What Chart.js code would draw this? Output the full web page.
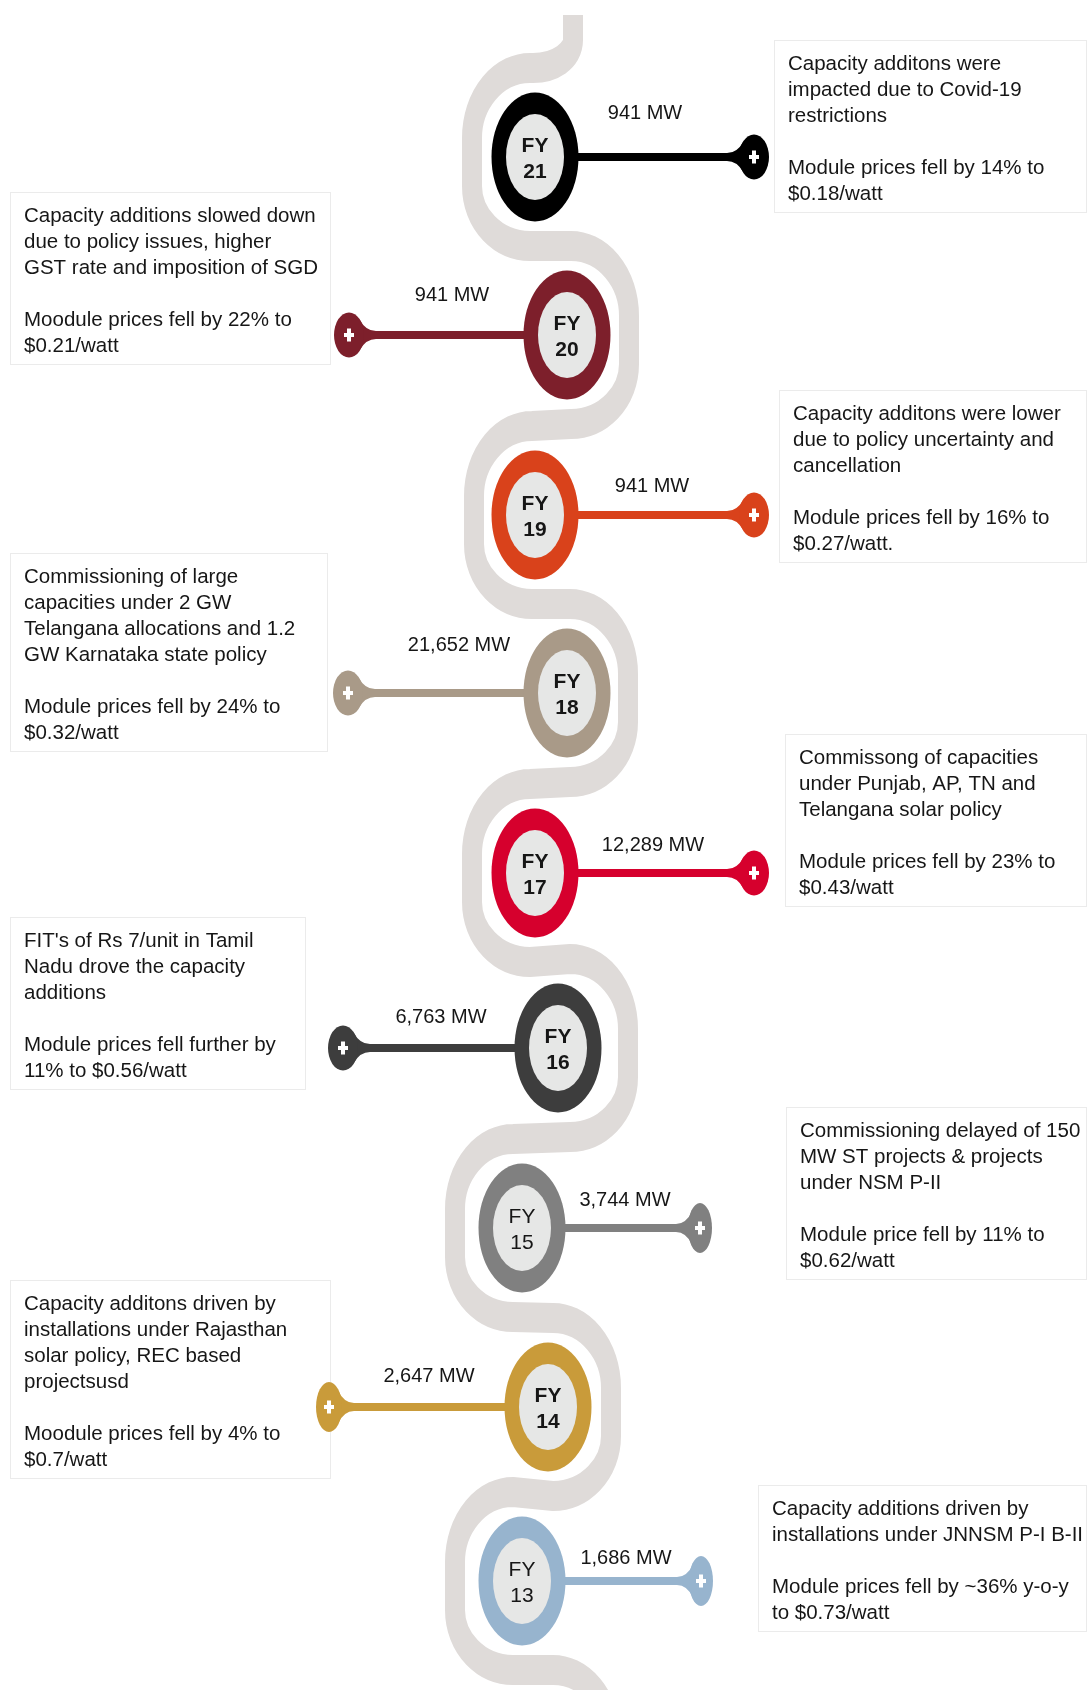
<!DOCTYPE html>
<html>
<head>
<meta charset="utf-8">
<script src="https://cdn.jsdelivr.net/npm/chart.js@4.4.0/dist/chart.umd.min.js"></script>
<style>
  html, body { margin: 0; padding: 0; background: #fff; }
  #wrap { width: 1088px; height: 1690px; position: relative; }
</style>
</head>
<body>
<div id="wrap"><canvas id="timeline"></canvas></div>
<script>
// ---- data (top = latest year) ----
const years = ['FY21', 'FY20', 'FY19', 'FY18', 'FY17', 'FY16', 'FY15', 'FY14', 'FY13'];
const capacityMW = [941, 941, 941, 21652, 12289, 6763, 3744, 2647, 1686];
const notes = [
  ['Capacity additons were', 'impacted due to Covid-19', 'restrictions', '', 'Module prices fell by 14% to', '$0.18/watt'],
  ['Capacity additions slowed down', 'due to policy issues, higher', 'GST rate and imposition of SGD', '', 'Moodule prices fell by 22% to', '$0.21/watt'],
  ['Capacity additons were lower', 'due to policy uncertainty and', 'cancellation', '', 'Module prices fell by 16% to', '$0.27/watt.'],
  ['Commissioning of large', 'capacities under 2 GW', 'Telangana allocations and 1.2', 'GW Karnataka state policy', '', 'Module prices fell by 24% to', '$0.32/watt'],
  ['Commissong of capacities', 'under Punjab, AP, TN and', 'Telangana solar policy', '', 'Module prices fell by 23% to', '$0.43/watt'],
  ["FIT's of Rs 7/unit in Tamil", 'Nadu drove the capacity', 'additions', '', 'Module prices fell further by', '11% to $0.56/watt'],
  ['Commissioning delayed of 150', 'MW ST projects & projects', 'under NSM P-II', '', 'Module price fell by 11% to', '$0.62/watt'],
  ['Capacity additons driven by', 'installations under Rajasthan', 'solar policy, REC based', 'projectsusd', '', 'Moodule prices fell by 4% to', '$0.7/watt'],
  ['Capacity additions driven by', 'installations under JNNSM P-I B-II', '', 'Module prices fell by ~36% y-o-y', 'to $0.73/watt']
];

// ---- look & layout ----
const ringColors = ['#000000', '#7d1f2b', '#d9421b', '#a99a88', '#d6002d', '#3d3d3d', '#808080', '#c99b3a', '#97b4ce'];
const boldYear = [true, true, true, true, true, true, false, true, false];
const ringX = [535, 567, 535, 567, 535, 558, 522, 548, 522];
const rowNudge = [0, 0, 2, 2, 4, 1, 3, 4, 0];
const bandGap = [63, 62, 61, 61, 63, 70, 67, 63, 67];
const stemLen = [219, 218, 219, 219, 219, 215, 178, 219, 179];
const labelDx = [110, 115, 117, 108, 118, 117, 103, 119, 104];
const labelRise = [44, 40, 29, 48, 28, 31, 28, 31, 23];
const pinSize = [[30, 45], [30, 45], [30, 45], [30, 45], [30, 45], [30, 45], [24, 50], [26, 50], [24, 50]];
const boxLeft = [774, 10, 779, 10, 785, 10, 786, 10, 758];
const boxWidth = [313, 321, 308, 318, 302, 296, 301, 321, 329];
const boxTop = [-117, -143, -125, -140, -139, -131, -121, -127, -96];

const BAND = '#dfdbd9';
const INNER = '#e6e7e6';
const TEXT = '#161616';
const FONT = '"Liberation Sans", Arial, sans-serif';

function stemDir(i) { return i % 2 === 0 ? 1 : -1; } // +1 -> stem to the right

function drawBand(ctx, chart, pts) {
  const ys = chart.scales.y;
  const rx = 58, ryTop = 70, ryBot = 60;
  const bandX = pts.map((p, i) => p.x - stemDir(i) * bandGap[i]);
  ctx.beginPath();
  // stub coming in from the top
  const yt0 = ys.getPixelForValue(-0.5);
  const stubX = bandX[1] - 56;
  ctx.moveTo(stubX, 15);
  ctx.lineTo(stubX, yt0 - 28);
  ctx.ellipse(stubX - 40, yt0 - 28, 40, 28, 0, 0, Math.PI / 2, false);
  pts.forEach((p, i) => {
    const s = -stemDir(i);
    const xb = bandX[i];
    const yt = ys.getPixelForValue(i - 0.5) + rowNudge[i];
    const yb = ys.getPixelForValue(i + 0.5) + rowNudge[i];
    const cx = xb - s * rx;
    ctx.lineTo(cx, yt);
    ctx.ellipse(cx, yt + ryTop, rx, ryTop, 0, -Math.PI / 2, s < 0 ? -Math.PI : 0, s < 0);
    ctx.lineTo(xb, yb - ryBot);
    ctx.ellipse(cx, yb - ryBot, rx, ryBot, 0, s < 0 ? Math.PI : 0, Math.PI / 2, s < 0);
  });
  // tail leaving at the bottom
  const yEnd = ys.getPixelForValue(pts.length - 0.5);
  const tailX = bandX[7] - rx;
  ctx.lineTo(tailX, yEnd);
  ctx.ellipse(tailX, yEnd + ryTop, rx, ryTop, 0, -Math.PI / 2, 0, false);
  ctx.lineTo(tailX + rx, yEnd + 300);
  ctx.save();
  ctx.strokeStyle = BAND;
  ctx.lineCap = 'butt';
  ctx.lineJoin = 'round';
  ctx.scale(1, 1.5);
  ctx.lineWidth = 20;
  ctx.stroke();
  ctx.restore();
}

function drawPin(ctx, px, py, dir, w, h, color) {
  ctx.fillStyle = color;
  const back = px - dir * (w / 2 + 12);
  const neck = px - dir * (w / 2 - 4);
  ctx.beginPath();
  ctx.moveTo(back, py - 4);
  ctx.quadraticCurveTo(px - dir * (w / 2 + 2), py - 4, neck, py - h * 0.33);
  ctx.lineTo(neck, py + h * 0.33);
  ctx.quadraticCurveTo(px - dir * (w / 2 + 2), py + 4, back, py + 4);
  ctx.closePath();
  ctx.fill();
  ctx.beginPath();
  ctx.ellipse(px, py, w / 2, h / 2, 0, 0, Math.PI * 2);
  ctx.fill();
  ctx.fillStyle = '#ffffff';
  ctx.fillRect(px - 5, py - 2, 10, 4);
  ctx.fillRect(px - 2, py - 6.5, 4, 13);
}

function drawNote(ctx, i, cy) {
  const lines = notes[i];
  const bx = boxLeft[i], by = Math.round(cy + boxTop[i]);
  const bh = lines.length * 26 + 17;
  ctx.fillStyle = '#ffffff';
  ctx.fillRect(bx, by, boxWidth[i], bh);
  ctx.strokeStyle = '#ebebeb';
  ctx.lineWidth = 1;
  ctx.strokeRect(bx + 0.5, by + 0.5, boxWidth[i] - 1, bh - 1);
  ctx.fillStyle = TEXT;
  ctx.textAlign = 'left';
  ctx.textBaseline = 'alphabetic';
  ctx.font = '20.5px ' + FONT;
  lines.forEach((t, k) => {
    if (t) ctx.fillText(t, bx + 14, by + 30 + k * 26);
  });
}

const timelinePlugin = {
  id: 'timeline',
  afterDatasetsDraw(chart) {
    const ctx = chart.ctx;
    const xs = chart.scales.x;
    const pts = chart.getDatasetMeta(0).data;
    ctx.save();
    pts.forEach((p, i) => drawNote(ctx, i, p.y + rowNudge[i]));
    drawBand(ctx, chart, pts);

    pts.forEach((p, i) => {
      const dir = stemDir(i);
      const color = ringColors[i];
      const cy = p.y + rowNudge[i];
      const px = xs.getPixelForValue(ringX[i] + dir * stemLen[i]);
      const [pw, ph] = pinSize[i];

      // stem
      ctx.strokeStyle = color;
      ctx.lineWidth = 8;
      ctx.beginPath();
      ctx.moveTo(p.x, cy);
      ctx.lineTo(px - dir * 10, cy);
      ctx.stroke();
      drawPin(ctx, px, cy, dir, pw, ph, color);

      // ring
      ctx.fillStyle = color;
      ctx.beginPath();
      ctx.ellipse(p.x, cy, 43.5, 64.5, 0, 0, Math.PI * 2);
      ctx.fill();
      ctx.fillStyle = INNER;
      ctx.beginPath();
      ctx.ellipse(p.x, cy, 29, 43, 0, 0, Math.PI * 2);
      ctx.fill();

      ctx.fillStyle = TEXT;
      ctx.textAlign = 'center';
      ctx.textBaseline = 'middle';
      ctx.font = (boldYear[i] ? 'bold ' : '') + '21px ' + FONT;
      ctx.fillText(years[i].slice(0, 2), p.x, cy - 10.5);
      ctx.fillText(years[i].slice(2), p.x, cy + 15.5);

      // MW label above the stem
      ctx.font = '20px ' + FONT;
      ctx.fillText(capacityMW[i].toLocaleString('en-US') + ' MW', p.x + dir * labelDx[i], cy - labelRise[i]);
    });
    ctx.restore();
  }
};

const ctx = document.getElementById('timeline').getContext('2d');
new Chart(ctx, {
  type: 'scatter',
  data: {
    datasets: [{
      label: 'Capacity additions',
      data: years.map((y, i) => ({ x: ringX[i], y: i })),
      pointRadius: 0,
      pointHoverRadius: 0
    }]
  },
  options: {
    responsive: true,
    maintainAspectRatio: false,
    animation: false,
    layout: { padding: 0 },
    events: [],
    plugins: { legend: { display: false }, tooltip: { enabled: false } },
    scales: {
      x: { type: 'linear', min: 0, max: 1088, display: false },
      y: { type: 'linear', reverse: true, min: -157 / 178, max: 8 + 109 / 178, display: false }
    }
  },
  plugins: [timelinePlugin]
});
</script>
</body>
</html>
